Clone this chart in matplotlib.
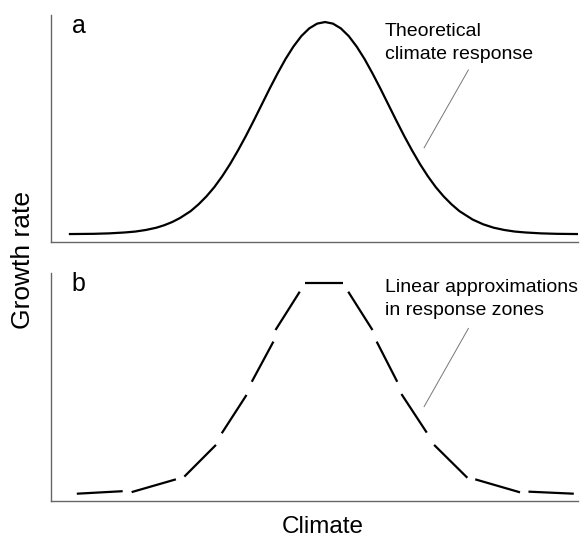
import matplotlib
matplotlib.use('Agg')
import matplotlib.pyplot as plt

plt.rcParams['font.family'] = ['Liberation Sans', 'DejaVu Sans']

# panel a: theoretical climate response
climate_a = [3.6, 8.0, 11.0, 14.0, 16.0, 18.0, 20.0, 21.5, 23.0, 24.5, 26.5,
             28.0, 29.5, 31.0, 32.5, 34.0, 35.5, 37.0, 38.5, 40.0, 41.5, 43.0,
             44.5, 46.0, 47.5, 49.0, 50.5, 52.0, 53.5, 55.0, 56.5, 58.0, 59.5,
             61.0, 62.5, 64.0, 65.5, 67.0, 68.5, 70.0, 71.5, 73.0, 74.5, 76.0,
             77.5, 80.0, 82.0, 84.0, 86.0, 88.0, 90.0, 93.0, 96.0, 100.0]
growth_a = [0.035, 0.036, 0.038, 0.042, 0.046, 0.053, 0.063, 0.074, 0.088,
            0.106, 0.136, 0.166, 0.201, 0.242, 0.290, 0.344, 0.404, 0.468,
            0.536, 0.606, 0.676, 0.743, 0.806, 0.861, 0.907, 0.941, 0.962,
            0.969, 0.962, 0.941, 0.907, 0.861, 0.806, 0.743, 0.676, 0.606,
            0.536, 0.468, 0.404, 0.344, 0.290, 0.242, 0.201, 0.166, 0.136,
            0.099, 0.078, 0.063, 0.053, 0.046, 0.042, 0.038, 0.036, 0.035]

# panel b: linear approximations, one segment per response zone
seg_x0 = [4.9, 15.3, 25.3, 32.4, 38.1, 42.6, 48.2, 56.4, 61.8, 66.5, 72.7, 80.5, 90.6]
seg_x1 = [13.6, 23.7, 31.3, 37.1, 42.2, 47.2, 55.5, 61.0, 65.7, 71.3, 79.0, 89.0, 99.2]
seg_y0 = [0.032, 0.039, 0.107, 0.297, 0.523, 0.750, 0.957, 0.918, 0.699, 0.469, 0.246, 0.095, 0.041]
seg_y1 = [0.043, 0.095, 0.246, 0.465, 0.699, 0.918, 0.957, 0.750, 0.523, 0.300, 0.102, 0.038, 0.032]

panel_labels = ['a', 'b']
notes = ['Theoretical\nclimate response', 'Linear approximations\nin response zones']
# leader lines (x0, y0, x1, y1) in data units
leaders = [(79.2, 0.758, 70.8, 0.415), (79.2, 0.757, 70.8, 0.414)]
note_top = [0.963, 0.972]

W, H = 585, 537
fig = plt.figure(figsize=(W / 100, H / 100), dpi=100)
ax_a = fig.add_axes([51 / W, 1 - 242 / H, 527 / W, 227 / H])
ax_b = fig.add_axes([51 / W, 1 - 501 / H, 527 / W, 228 / H])

ax_a.plot(climate_a, growth_a, color='black', lw=1.6, solid_joinstyle='round')
for x0, x1, y0, y1 in zip(seg_x0, seg_x1, seg_y0, seg_y1):
    ax_b.plot([x0, x1], [y0, y1], color='black', lw=1.6, solid_capstyle='butt')

for ax, lab, note, ld, ty in zip([ax_a, ax_b], panel_labels, notes, leaders, note_top):
    ax.set_xlim(0, 100)
    ax.set_ylim(0, 1)
    ax.set_xticks([])
    ax.set_yticks([])
    for s in ['top', 'right']:
        ax.spines[s].set_visible(False)
    for s in ['left', 'bottom']:
        ax.spines[s].set_color('#666666')
        ax.spines[s].set_linewidth(1.0)
    ax.text(3.9, 0.919, lab, fontsize=18, ha='left', va='baseline')
    ax.text(63.4, ty, note, fontsize=14, ha='left', va='top', linespacing=1.45)
    ax.plot([ld[0], ld[2]], [ld[1], ld[3]], color='#777777', lw=0.7)

fig.text(23 / W, 1 - 260 / H, 'Growth rate', fontsize=19, rotation=90,
         ha='center', va='center')
fig.text(323 / W, 1 - 533 / H, 'Climate', fontsize=17.5, ha='center', va='baseline')

fig.savefig('out.png', dpi=100)
